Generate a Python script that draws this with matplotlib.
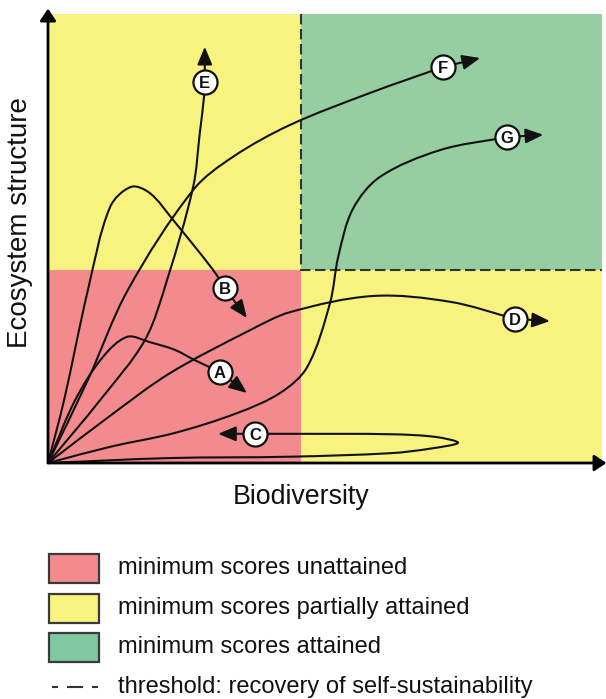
import numpy as np
import matplotlib
matplotlib.use('Agg')
import matplotlib.pyplot as plt
from matplotlib.path import Path
from matplotlib.patches import PathPatch, Rectangle

plt.rcParams['font.family'] = ['Liberation Sans', 'DejaVu Sans']

# both axes run 0-100 (schematic units)
threshold_x = 45.7
threshold_y = 43.0

# trajectories: origin ... circle label (last point), then arrow tip
a_x = [0, 4.9, 9.9, 14.3, 18.4, 22.9, 26.5, 31.0]
a_y = [0, 14.0, 23.6, 28.1, 26.9, 25.2, 22.9, 20.3]
b_x = [0, 2.9, 7.2, 11.2, 15.0, 18.4, 22.6, 29.8, 31.9]
b_y = [0, 14.0, 38.5, 57.0, 61.5, 60.1, 54.1, 43.0, 39.0]
c_x = [0, 22.0, 43.7, 62.0, 69.0, 74.0, 70.0, 62.0, 43.7, 37.4]
c_y = [0, 1.1, 1.4, 2.2, 3.2, 4.5, 5.8, 6.4, 6.5, 6.5]
d_x = [0, 11.2, 22.0, 36.5, 43.7, 58.7, 72.6, 84.3]
d_y = [0, 10.5, 20.0, 29.6, 33.6, 37.2, 35.9, 32.1]
e_x = [0, 9.4, 17.5, 21.5, 26.2, 27.4, 28.2, 28.3]
e_y = [0, 14.0, 27.4, 40.8, 61.5, 73.5, 82.0, 84.9]
f_x = [0, 7.2, 14.4, 26.2, 33.4, 43.7, 58.1, 71.3]
f_y = [0, 18.5, 38.5, 60.8, 68.2, 75.3, 82.4, 88.2]
g_x = [0, 11.2, 22.9, 34.1, 41.9, 46.8, 50.9, 52.4, 55.0, 59.9, 70.8, 82.9]
g_y = [0, 3.6, 6.7, 11.1, 15.6, 21.4, 35.6, 46.0, 56.5, 63.7, 69.7, 72.6]

tip_x = [35.9, 35.9, 30.7, 90.6, 28.3, 78.0, 89.4]
tip_y = [15.6, 32.3, 6.5, 31.6, 92.7, 90.2, 73.1]
letters = ['A', 'B', 'C', 'D', 'E', 'F', 'G']

legend_labels = ['minimum scores unattained',
                 'minimum scores partially attained',
                 'minimum scores attained',
                 'threshold: recovery of self-sustainability']

red = '#f38b8e'
yellow = '#f8f27f'
green = '#96cea1'
green_leg = '#80c9a0'
dash_col = '#333333'


def smooth_path(xs, ys):
    # chord-length catmull-rom through the points, as cubic bezier segments
    pts = np.column_stack([xs, ys]).astype(float)
    px = pts * np.array([5.54, 4.49])   # roughly pixels, for the chord lengths
    t = np.concatenate([[0], np.cumsum(np.linalg.norm(np.diff(px, axis=0), axis=1))])
    n = len(pts)
    tang = np.zeros_like(pts)
    for i in range(n):
        lo, hi = max(i - 1, 0), min(i + 1, n - 1)
        tang[i] = (pts[hi] - pts[lo]) / (t[hi] - t[lo])
    verts = [pts[0]]
    codes = [Path.MOVETO]
    for i in range(n - 1):
        h = t[i + 1] - t[i]
        verts += [pts[i] + tang[i] * h / 3, pts[i + 1] - tang[i + 1] * h / 3, pts[i + 1]]
        codes += [Path.CURVE4] * 3
    return Path(verts, codes)


fig = plt.figure(figsize=(6.06, 6.99), dpi=100)
ax = fig.add_axes([48 / 606, 236 / 699, 554 / 606, 449 / 699])
ax.set_xlim(0, 100)
ax.set_ylim(0, 100)
ax.axis('off')

# zones
ax.add_patch(Rectangle((0, 0), threshold_x, threshold_y, color=red, lw=0, zorder=0))
ax.add_patch(Rectangle((0, threshold_y), threshold_x, 100 - threshold_y, color=yellow, lw=0, zorder=0))
ax.add_patch(Rectangle((threshold_x, 0), 100 - threshold_x, threshold_y, color=yellow, lw=0, zorder=0))
ax.add_patch(Rectangle((threshold_x, threshold_y), 100 - threshold_x, 100 - threshold_y,
                       color=green, lw=0, zorder=0))
ax.plot([threshold_x, threshold_x, 100], [100, threshold_y, threshold_y], color=dash_col,
        lw=1.5, dashes=(5, 2.2), zorder=1)

# axes with arrows
for tip in [(0, 1.012), (1.008, 0)]:
    ax.annotate('', xy=tip, xytext=(0, 0), xycoords='axes fraction',
                arrowprops=dict(arrowstyle='-|>,head_length=0.45,head_width=0.3', lw=2, color='black',
                                shrinkA=0, shrinkB=0, mutation_scale=16),
                annotation_clip=False, zorder=7)

curves = [(a_x, a_y), (b_x, b_y), (c_x, c_y), (d_x, d_y), (e_x, e_y), (f_x, f_y), (g_x, g_y)]
for (xs, ys), tx, ty, letter in zip(curves, tip_x, tip_y, letters):
    ax.add_patch(PathPatch(smooth_path(xs, ys), fill=False, lw=1.5, edgecolor='#111111', zorder=3))
    ax.annotate('', xy=(tx, ty), xytext=(xs[-1], ys[-1]),
                arrowprops=dict(arrowstyle='-|>,head_length=0.6,head_width=0.25', lw=1.5,
                                color='#111111', shrinkA=8, shrinkB=0, mutation_scale=18), zorder=4)
    ax.scatter([xs[-1]], [ys[-1]], s=300, facecolor='white', edgecolor='#111111', linewidth=1.6, zorder=5)
    ax.annotate(letter, (xs[-1], ys[-1]), xytext=(0, -4.3), textcoords='offset points',
                ha='center', va='baseline', fontsize=12, fontweight='bold', color='#111111', zorder=6)

fig.text(301 / 606, 1 - 497 / 699, 'Biodiversity', ha='center', va='center', fontsize=19.3, color='#111111')
fig.text(20 / 606, 1 - 223 / 699, 'Ecosystem structure', ha='center', va='center', rotation=90,
         fontsize=20, color='#111111')

# legend, drawn in pixel units
lg = fig.add_axes([0, 0, 1, 1])
lg.set_xlim(0, 606)
lg.set_ylim(699, 0)
lg.axis('off')
row_y = [568, 608, 647, 687]
for yy, col in zip(row_y[:3], [red, yellow, green_leg]):
    lg.add_patch(Rectangle((49, yy - 14), 50, 29, facecolor=col, edgecolor='#3a3a3a', lw=1.6))
lg.plot([52, 98], [row_y[3], row_y[3]], color=dash_col, lw=1.5, linestyle=(4.8, (7.7, 4.3)))
for yy, lab in zip(row_y, legend_labels):
    lg.text(118, yy, lab, ha='left', va='center', fontsize=17, color='#111111')

fig.savefig('out.png', dpi=100)
